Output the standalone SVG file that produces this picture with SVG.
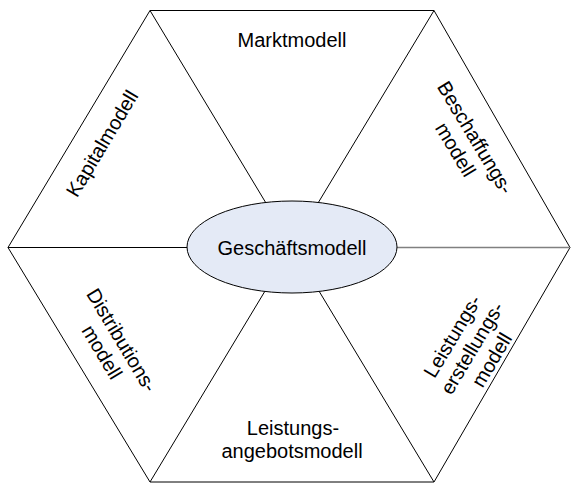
<svg xmlns="http://www.w3.org/2000/svg" width="571" height="484" viewBox="0 0 571 484">
  <style>
    .edge { fill: none; stroke: #000; stroke-width: 1; }
    .edge-grey { fill: none; stroke: #808080; stroke-width: 1.6; }
    .lbl { font-family: "Liberation Sans", Arial, sans-serif; font-size: 20px; fill: #000; text-anchor: middle; }
    .core { fill: #e4eaf6; stroke: #000; stroke-width: 1; }
  </style>
  <rect width="571" height="484" fill="#fff"/>

  <!-- hexagon outline and spokes -->
  <g id="connectors">
    <polygon class="edge" points="150,10.5 434,10.5 570,247.5 434,482 150,482 8,247.5"/>
    <line class="edge" x1="150" y1="10.5" x2="434" y2="482"/>
    <line class="edge" x1="434" y1="10.5" x2="150" y2="482"/>
    <line class="edge" x1="8" y1="247.5" x2="292" y2="247.5"/>
    <line class="edge-grey" x1="292" y1="247.5" x2="570" y2="247.5"/>
  </g>

  <g id="markt">
    <text class="lbl" x="292" y="47">Marktmodell</text>
  </g>

  <g id="kapital">
    <text class="lbl" transform="translate(102,143.5) rotate(-59)" x="0" y="7">Kapitalmodell</text>
  </g>

  <g id="beschaffung">
    <g transform="translate(465.5,143.5) rotate(59)">
      <text class="lbl" x="0" y="-4.5">Beschaffungs-</text>
      <text class="lbl" x="0" y="18.5">modell</text>
    </g>
  </g>

  <g id="distribution">
    <g transform="translate(112,346) rotate(59)">
      <text class="lbl" x="0" y="-4.5">Distributions-</text>
      <text class="lbl" x="0" y="18.5">modell</text>
    </g>
  </g>

  <g id="leistungserstellung">
    <g transform="translate(472,348) rotate(-59)">
      <text class="lbl" x="0" y="-16">Leistungs-</text>
      <text class="lbl" x="0" y="7">erstellungs-</text>
      <text class="lbl" x="0" y="30">modell</text>
    </g>
  </g>

  <g id="leistungsangebot">
    <text class="lbl" x="293" y="435">Leistungs-</text>
    <text class="lbl" x="292" y="458">angebotsmodell</text>
  </g>

  <g id="geschaeftsmodell">
    <ellipse class="core" cx="292" cy="247" rx="105" ry="46"/>
    <text class="lbl" x="292" y="255">Geschäftsmodell</text>
  </g>
</svg>
